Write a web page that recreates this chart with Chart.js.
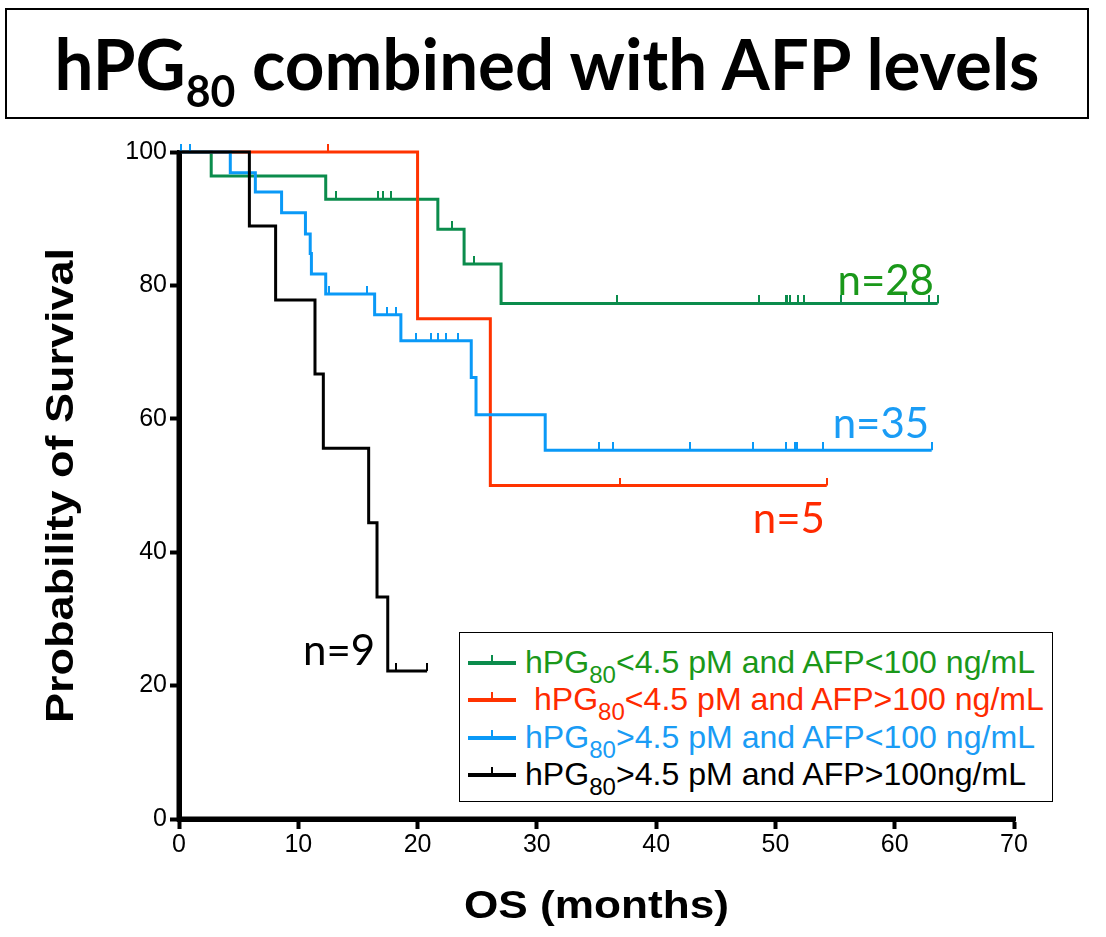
<!DOCTYPE html>
<html>
<head>
<meta charset="utf-8">
<script src="https://cdn.jsdelivr.net/npm/chart.js@4.4.0/dist/chart.umd.min.js"></script>
<style>
  body { margin: 0; background: #fff; }
  #page { position: relative; width: 1106px; height: 937px; overflow: hidden; font-family: 'Liberation Sans', Arial, sans-serif; }
  #chart { position: absolute; left: 0; top: 0; }
  #title { position: absolute; left: 5px; top: 8px; width: 1080px; height: 107px; border: 2px solid #000;
           display: flex; align-items: center; justify-content: center; }
  #title span { font-family: Lato, sans-serif; font-weight: 700; font-size: 70px; white-space: nowrap;
                display: inline-block; transform-origin: center; margin-top: -2px; }
  #title sub { font-size: 0.62em; vertical-align: -0.4em; line-height: 0; }
  #legend { position: absolute; left: 459px; top: 632px; width: 592px; height: 168px; border: 1.5px solid #000; background: #fff; }
  .row { position: absolute; left: 0; height: 36px; width: 100%; }
  .smp { position: absolute; left: 8px; top: 16px; width: 48px; height: 4px; }
  .smp::after { content: ''; position: absolute; left: 23px; top: -6px; width: 2px; height: 6px; background: inherit; }
  .txt { position: absolute; left: 65px; top: -2px; font-size: 32px; line-height: 38px; white-space: nowrap; transform-origin: left center; }
  .txt sub { font-size: 0.75em; vertical-align: -0.42em; line-height: 0; }
</style>
</head>
<body>
<div id="page">
  <canvas id="chart" width="1106" height="937"></canvas>
  <div id="title"><span>hPG<sub>80</sub> combined with AFP levels</span></div>
  <div id="legend"></div>
</div>
<script>
// group names (legend), split so the "80" can be a subscript
var groupPrefix = ['hPG', '\u00a0hPG', 'hPG', 'hPG'];
var groupSuffix = ['<4.5 pM and AFP<100 ng/mL', '<4.5 pM and AFP>100 ng/mL', '>4.5 pM and AFP<100 ng/mL', '>4.5 pM and AFP>100ng/mL'];
var groupCounts = ['n=28', 'n=5', 'n=35', 'n=9'];

// Kaplan-Meier steps: time (months) and survival (%)
var greenTime = [0, 2.7, 12.3, 21.7, 23.9, 27.0];
var greenSurv = [100, 96.4, 92.9, 88.4, 83.2, 77.3];
var greenCensor = [13.2, 16.7, 17.1, 17.8, 22.9, 24.7, 36.7, 48.6, 50.9, 51.0, 51.2, 51.9, 52.4, 55.5, 60.9, 62.9, 63.6];

var redTime = [0, 20.0, 26.1];
var redSurv = [100, 75, 50];
var redCensor = [12.5, 37.0, 54.3];

var blueTime = [0, 4.3, 6.4, 8.6, 10.6, 11.0, 11.1, 12.3, 16.4, 18.6, 24.5, 24.9, 30.7];
var blueSurv = [100, 96.9, 94.0, 90.9, 87.7, 84.8, 81.7, 78.7, 75.6, 71.7, 66.2, 60.6, 55.3];
var blueCensor = [0.2, 0.9, 12.6, 15.8, 17.4, 18.2, 19.9, 21.1, 21.7, 22.4, 23.4, 35.2, 36.4, 42.8, 48.1, 50.9, 51.6, 51.8, 54.0, 63.1];

var blackTime = [0, 5.9, 8.1, 11.4, 12.1, 15.9, 16.6, 17.5];
var blackSurv = [100, 88.9, 77.8, 66.7, 55.6, 44.4, 33.3, 22.2];
var blackCensor = [18.2, 20.8];

// where the n= labels sit (months, %)
var countX = [55.2, 48.1, 54.8, 10.4];
var countY = [78.6, 42.9, 57.1, 23.1];

var xTicks = [0, 10, 20, 30, 40, 50, 60, 70];
var yTicks = [0, 20, 40, 60, 80, 100];
var xTitle = 'OS (months)';
var yTitle = 'Probability of Survival';

var lineColors = ['#0b8c4c', '#ff3300', '#0a99f7', '#000000'];
var textColors = ['#1a981a', '#ff2a00', '#1a9cf5', '#000000'];

function survAt(times, surv, t) {
  var s = surv[0];
  for (var i = 0; i < times.length; i++) if (times[i] <= t) s = surv[i];
  return s;
}

function curve(times, surv, censor) {
  var pts = times.map(function (t, i) { return { x: t, y: surv[i] }; });
  var end = censor[censor.length - 1];
  pts.push({ x: end, y: survAt(times, surv, end) });
  return pts;
}

function marks(times, surv, censor) {
  return censor.map(function (t) { return { x: t, y: survAt(times, surv, t) }; });
}

function tickMark(color) {
  var c = document.createElement('canvas');
  c.width = 2; c.height = 16;
  var g = c.getContext('2d');
  g.fillStyle = color;
  g.fillRect(0, 0, 2, 8);
  return c;
}

var groups = [
  [greenTime, greenSurv, greenCensor],
  [redTime, redSurv, redCensor],
  [blueTime, blueSurv, blueCensor],
  [blackTime, blackSurv, blackCensor]
];

var datasets = [];
groups.forEach(function (g, i) {
  datasets.push({
    data: curve(g[0], g[1], g[2]),
    showLine: true, stepped: true, borderColor: lineColors[i], borderWidth: 3,
    pointRadius: 0, fill: false, clip: false, order: 4 - i
  });
  datasets.push({
    data: marks(g[0], g[1], g[2]),
    showLine: false, pointStyle: tickMark(lineColors[i]), pointRadius: 4,
    clip: false, order: 4 - i
  });
});
// draw order bottom->top: green, red, blue, black
datasets[6].order = 0; datasets[7].order = 0;

var extras = {
  id: 'extras',
  afterDraw: function (chart) {
    var ctx = chart.ctx, a = chart.chartArea;
    var xs = chart.scales.x, ys = chart.scales.y;
    ctx.save();
    // heavy axis lines
    ctx.strokeStyle = '#000';
    ctx.lineWidth = 5;
    ctx.lineCap = 'butt';
    ctx.beginPath();
    ctx.moveTo(a.left, a.top - 1);
    ctx.lineTo(a.left, a.bottom);
    ctx.lineTo(a.right + 2, a.bottom);
    ctx.stroke();

    ctx.fillStyle = '#000';
    ctx.font = 'bold 38px "Liberation Sans", Arial, sans-serif';
    ctx.textAlign = 'center';
    ctx.textBaseline = 'middle';
    var w = ctx.measureText(xTitle).width;
    ctx.save();
    ctx.translate((a.left + a.right) / 2, a.bottom + 89);
    ctx.scale(265 / w, 1);
    ctx.fillText(xTitle, 0, 0);
    ctx.restore();
    w = ctx.measureText(yTitle).width;
    ctx.save();
    ctx.translate(63, (a.top + a.bottom) / 2);
    ctx.rotate(-Math.PI / 2);
    ctx.scale(475 / w, 1);
    ctx.fillText(yTitle, 0, 0);
    ctx.restore();

    ctx.font = '42px Lato, sans-serif';
    ctx.textAlign = 'left';
    ctx.textBaseline = 'alphabetic';
    groupCounts.forEach(function (t, i) {
      ctx.fillStyle = textColors[i];
      ctx.fillText(t, xs.getPixelForValue(countX[i]), ys.getPixelForValue(countY[i]));
    });
    ctx.restore();
  }
};

var tickFont = { family: "'Liberation Sans', Arial, sans-serif", size: 25 };

new Chart(document.getElementById('chart').getContext('2d'), {
  type: 'scatter',
  data: { datasets: datasets },
  options: {
    responsive: false,
    animation: false,
    devicePixelRatio: 1,
    layout: { padding: { top: 152, right: 92, left: 0, bottom: 0 } },
    plugins: { legend: { display: false }, tooltip: { enabled: false } },
    events: [],
    scales: {
      x: {
        type: 'linear', min: 0, max: 70,
        afterFit: function (s) { s.height = 118; },
        afterBuildTicks: function (s) { s.ticks = xTicks.map(function (v) { return { value: v }; }); },
        ticks: { color: '#000', font: tickFont, padding: 1, maxRotation: 0 },
        grid: { drawOnChartArea: false, drawTicks: true, tickLength: 10, tickWidth: 4, tickColor: '#000' },
        border: { color: '#000', width: 5 }
      },
      y: {
        type: 'linear', min: 0, max: 100,
        afterFit: function (s) { s.width = 179; },
        afterBuildTicks: function (s) { s.ticks = yTicks.map(function (v) { return { value: v }; }); },
        ticks: { color: '#000', font: tickFont, padding: 3 },
        grid: { drawOnChartArea: false, drawTicks: true, tickLength: 9, tickWidth: 4, tickColor: '#000' },
        border: { color: '#000', width: 5 }
      }
    }
  },
  plugins: [extras]
});

// legend with subscripted 80
var legend = document.getElementById('legend');
var rowTops = [12, 49, 87, 124];
groupPrefix.forEach(function (p, i) {
  var row = document.createElement('div');
  row.className = 'row';
  row.style.top = rowTops[i] + 'px';
  var smp = document.createElement('span');
  smp.className = 'smp';
  smp.style.background = lineColors[i];
  var txt = document.createElement('span');
  txt.className = 'txt';
  txt.style.color = textColors[i];
  txt.appendChild(document.createTextNode(p));
  var sub = document.createElement('sub');
  sub.textContent = '80';
  txt.appendChild(sub);
  txt.appendChild(document.createTextNode(groupSuffix[i]));
  row.appendChild(smp);
  row.appendChild(txt);
  legend.appendChild(row);
});
var rows = legend.querySelectorAll('.txt');
var k = 510 / rows[0].getBoundingClientRect().width;
rows.forEach(function (r) { r.style.transform = 'scaleX(' + k + ')'; });

var tspan = document.querySelector('#title span');
var tk = 985 / tspan.getBoundingClientRect().width;
tspan.style.transform = 'scaleX(' + tk + ')';
</script>
</body>
</html>
